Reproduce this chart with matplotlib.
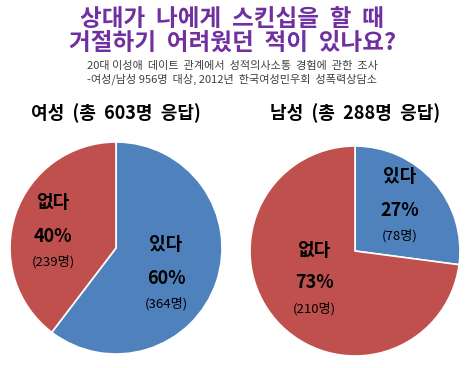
import matplotlib
matplotlib.use('Agg')
import matplotlib.pyplot as plt

plt.rcParams['font.family'] = ['Noto Sans CJK KR', 'DejaVu Sans']

# data
answers = ['있다', '없다']
female_counts = [364, 239]
female_pct = [60, 40]
male_counts = [78, 210]
male_pct = [27, 73]
colors = ['#4F81BD', '#C0504D']

W, H = 470, 368
fig = plt.figure(figsize=(W / 100, H / 100), dpi=100)
fig.patch.set_facecolor('white')


def px(x, y):
    return x / W, 1 - y / H


def put(x, y, s, **kw):
    fig.text(*px(x, y), s, ha='center', va='center', **kw)


# titles
purple = '#7030A0'
put(232, 19, '상대가  나에게  스킨십을  할  때', color=purple, fontsize=17, fontweight='bold')
put(233, 43, '거절하기  어려웠던  적이  있나요?', color=purple, fontsize=17, fontweight='bold')
put(232, 66, '20대 이성애  데이트  관계에서  성적의사소통  경험에  관한  조사', color='#404040', fontsize=8)
put(232, 79, '-여성/남성 956명  대상, 2012년  한국여성민우회  성폭력상담소', color='#404040', fontsize=8)


def draw_pie(cx, cy, r, counts, pct, title, label_pos):
    ax = fig.add_axes([(cx - r) / W, 1 - (cy + r) / H, 2 * r / W, 2 * r / H])
    ax.pie(counts, colors=colors, startangle=90, counterclock=False,
           wedgeprops=dict(edgecolor='white', linewidth=1.2))
    ax.set_xlim(-1, 1)
    ax.set_ylim(-1, 1)
    ax.axis('off')
    put(cx, 113, title, fontsize=13, fontweight='bold')
    for name, c, p, (lx, ly) in zip(answers, counts, pct, label_pos):
        put(lx, ly, name, fontsize=13, fontweight='bold')
        put(lx, ly + 33, f'{p}%', fontsize=13, fontweight='bold')
        put(lx, ly + 59, f'({c}명)', fontsize=9.5)


draw_pie(116, 248, 106, female_counts, female_pct, '여성  (총  603명  응답)',
         [(166, 245), (53, 203)])
draw_pie(355, 251, 105, male_counts, male_pct, '남성  (총  288명  응답)',
         [(400, 177), (314, 250)])

fig.savefig('out.png', dpi=100)
